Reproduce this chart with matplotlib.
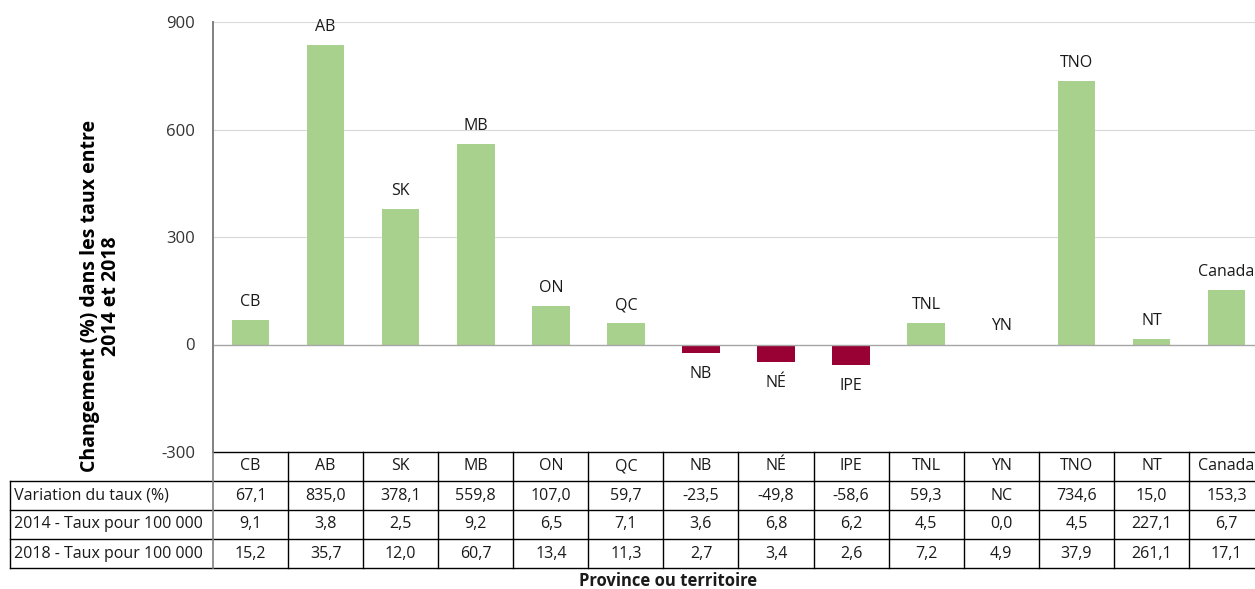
import matplotlib
matplotlib.use("Agg")
import matplotlib.pyplot as plt
import matplotlib.transforms as mtransforms
import numpy as np

plt.rcParams['font.family'] = ['Open Sans', 'DejaVu Sans']

# Provinces / territories and their values
regions = ['CB', 'AB', 'SK', 'MB', 'ON', 'QC', 'NB', 'NÉ', 'IPE', 'TNL', 'YN', 'TNO', 'NT', 'Canada']
change_pct = [67.1, 835.0, 378.1, 559.8, 107.0, 59.7, -23.5, -49.8, -58.6, 59.3, 0.0, 734.6, 15.0, 153.3]
change_txt = ['67,1', '835,0', '378,1', '559,8', '107,0', '59,7', '-23,5', '-49,8', '-58,6',
              '59,3', 'NC', '734,6', '15,0', '153,3']
rate_2014 = ['9,1', '3,8', '2,5', '9,2', '6,5', '7,1', '3,6', '6,8', '6,2', '4,5', '0,0', '4,5', '227,1', '6,7']
rate_2018 = ['15,2', '35,7', '12,0', '60,7', '13,4', '11,3', '2,7', '3,4', '2,6', '7,2', '4,9', '37,9', '261,1', '17,1']
row_labels = ['Variation du taux (%)', '2014 - Taux pour 100 000', '2018 - Taux pour 100 000']
yticks = [-300, 0, 300, 600, 900]

GREEN = '#a9d18e'
RED = '#990033'

W, H = 1255, 589
fig = plt.figure(figsize=(W / 100, H / 100), dpi=100)

# plot area in pixel coordinates
x0, x1 = 213, 1264
ytop, ybot = 22, 452
ax = fig.add_axes([x0 / W, 1 - ybot / H, (x1 - x0) / W, (ybot - ytop) / H])

n = len(regions)
x = np.arange(n)
colors = [GREEN if v >= 0 else RED for v in change_pct]
ax.bar(x, change_pct, width=0.5, color=colors, zorder=2)

ax.set_xlim(-0.5, n - 0.5)
ax.set_ylim(-300, 900)
ax.set_yticks(yticks)
ax.set_yticklabels([str(t) for t in yticks], fontsize=12, color='#333333')
ax.tick_params(axis='y', length=0, pad=13)
ax.set_xticks([])

for s in ['top', 'right', 'bottom']:
    ax.spines[s].set_visible(False)
ax.spines['left'].set_color('#808080')
ax.spines['left'].set_linewidth(1.2)

for t in [300, 600, 900]:
    ax.axhline(t, color='#d9d9d9', lw=0.8, zorder=0)
ax.axhline(0, color='#a6a6a6', lw=1.0, zorder=3)

# region labels on the bars
for xi, v, name in zip(x, change_pct, regions):
    off = 13 if v >= 0 else -15
    ax.annotate(name, (xi, v), xytext=(0, off), textcoords='offset points',
                ha='center', va='center', fontsize=11.5, color='#1a1a1a')

ax.set_ylabel('Changement (%) dans les taux entre\n2014 et 2018', fontsize=14,
              fontweight='bold', linespacing=1.1)
ax.yaxis.set_label_coords(-92 / (x1 - x0), (ybot - 296) / (ybot - ytop))

# data table under the chart: x in data units, y in figure pixels
trans = mtransforms.blended_transform_factory(ax.transData, fig.transFigure)
def fy(py):
    return 1 - py / H

row_edges = [452, 481, 510, 539, 568]
xl = -0.5 - (x0 - 10) / ((x1 - x0) / n)  # left edge of the label column in data units
lc = 'black'

# horizontal rules
fig.add_artist(plt.Line2D([-0.5, n - 0.5], [fy(452), fy(452)], transform=trans, color=lc, lw=1))
for ye in row_edges[1:]:
    fig.add_artist(plt.Line2D([xl, n - 0.5], [fy(ye), fy(ye)], transform=trans, color=lc, lw=1))
# vertical rules
for i in range(1, n):
    fig.add_artist(plt.Line2D([i - 0.5, i - 0.5], [fy(452), fy(568)], transform=trans, color=lc, lw=1))
fig.add_artist(plt.Line2D([xl, xl], [fy(481), fy(568)], transform=trans, color=lc, lw=1))
fig.add_artist(plt.Line2D([-0.5, -0.5], [fy(ytop), fy(568)], transform=trans, color='#808080', lw=1.2))

rows = [regions, change_txt, rate_2014, rate_2018]
for r, vals in enumerate(rows):
    yc = fy((row_edges[r] + row_edges[r + 1]) / 2)
    for xi, val in zip(x, vals):
        fig.text(xi, yc, val, transform=trans, ha='center', va='center',
                 fontsize=11.5, color='#1a1a1a')
    if r > 0:
        fig.text(xl, yc, ' ' + row_labels[r - 1], transform=trans, ha='left', va='center',
                 fontsize=11.5, color='#1a1a1a')

fig.text(668 / W, fy(581), 'Province ou territoire', ha='center', va='center',
         fontsize=12, fontweight='bold', color='#1a1a1a')

fig.savefig('out.png', dpi=100)
